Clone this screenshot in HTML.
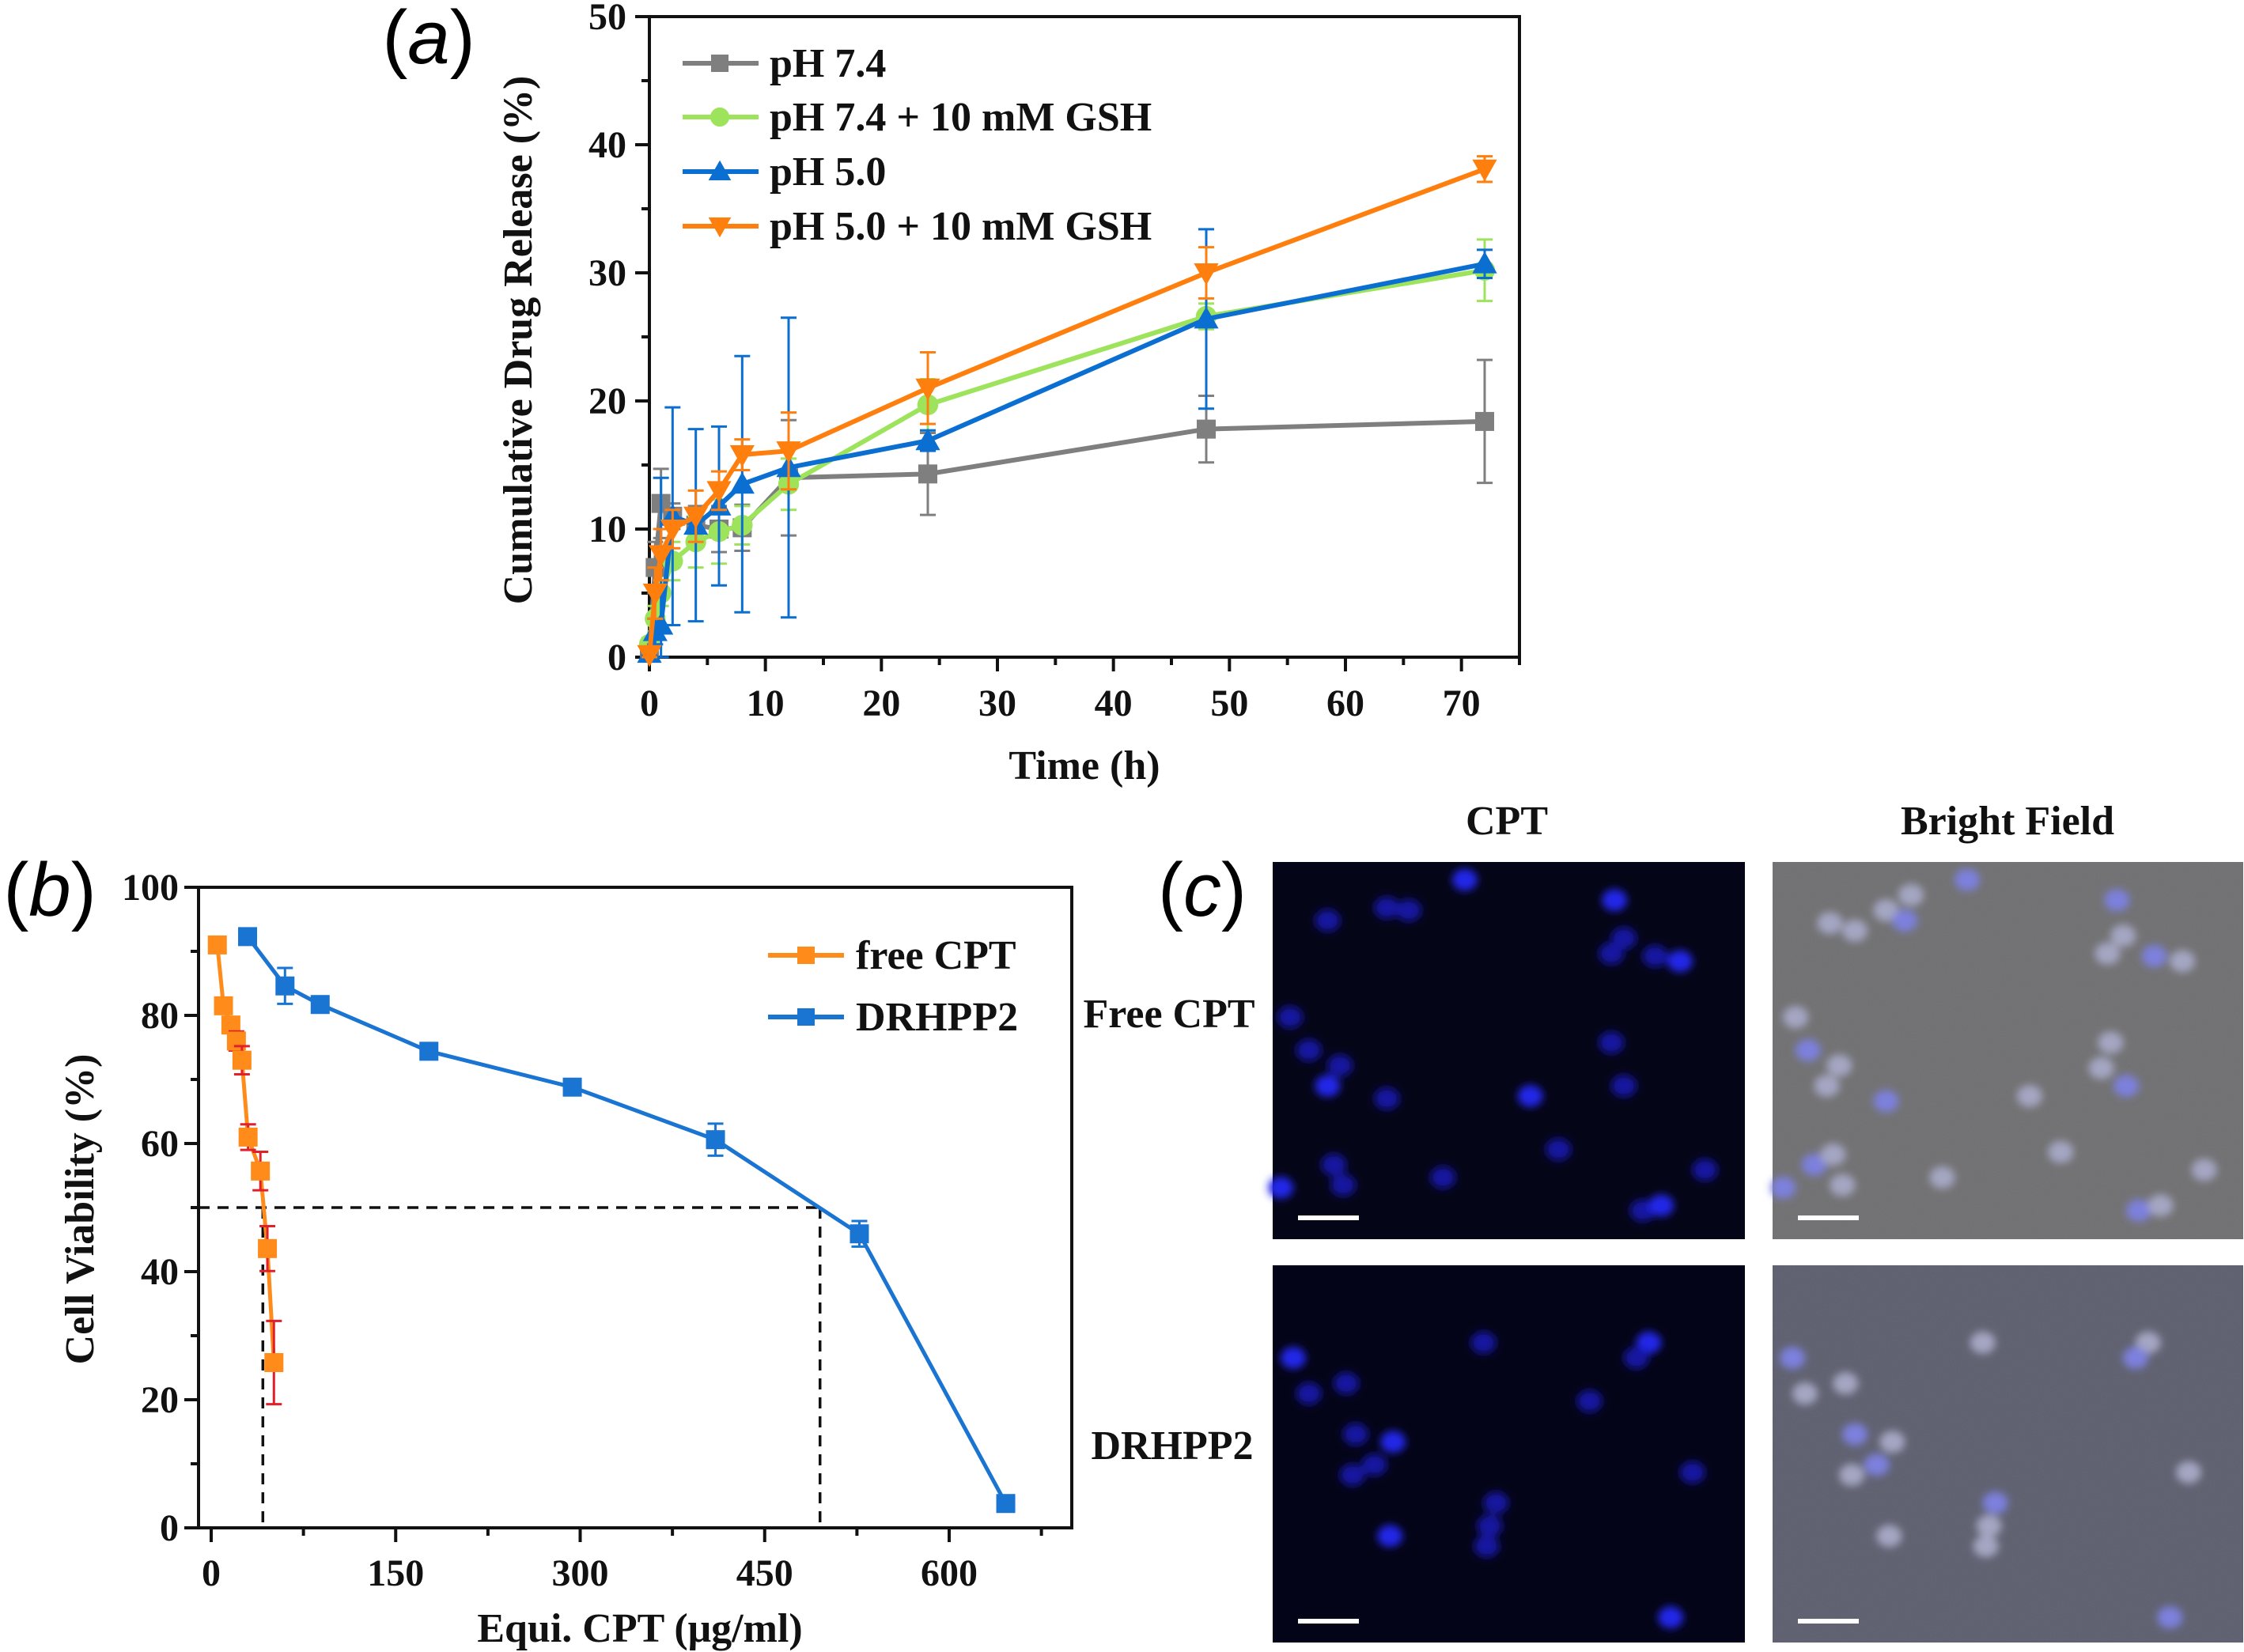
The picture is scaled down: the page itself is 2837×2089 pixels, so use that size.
<!DOCTYPE html>
<html><head><meta charset="utf-8"><style>
html,body{margin:0;padding:0;background:#fff;}
svg{display:block;font-family:"Liberation Serif",serif;}
.tk{font-weight:bold;font-size:48px;fill:#111;}
.tt{font-weight:bold;font-size:52px;fill:#111;}
</style></head><body>
<svg id="fig" width="2837" height="2089" viewBox="0 0 2837 2089" xmlns="http://www.w3.org/2000/svg">
<defs>
<filter id="blur" x="-50%" y="-50%" width="200%" height="200%"><feGaussianBlur stdDeviation="5"/></filter>
<filter id="noise" x="0" y="0" width="1" height="1"><feTurbulence type="fractalNoise" baseFrequency="0.9" numOctaves="2" result="n"/><feColorMatrix type="saturate" values="0"/><feComponentTransfer><feFuncA type="linear" slope="0.10"/></feComponentTransfer></filter>
</defs>
<g id="pa"></g>
<g id="pb"></g>
<g id="pc"></g>
</svg>
<script>
// ---------- Panel (a) data ----------
const timesA = [0, 0.5, 1, 2, 4, 6, 8, 12, 24, 48, 72];
const ph74 = [0.5, 7, 12, 11, 10.3, 10, 10.1, 14, 14.3, 17.8, 18.4];
const ph74Err = [0.5, 2, 2.7, 1, 1.5, 1.8, 1.8, 4.5, 3.2, 2.6, 4.8];
const ph74gsh = [1, 3, 5, 7.5, 9, 9.8, 10.3, 13.5, 19.7, 26.6, 30.2];
const ph74gshErr = [0.5, 1, 1, 1.5, 2, 2.5, 1.5, 2, 2, 1, 2.4];
const ph50 = [0.3, 2, 2.5, 11, 10.3, 11.8, 13.5, 14.8, 16.9, 26.4, 30.7];
const ph50Err = [0.5, 1, 11.5, 8.5, 7.5, 6.2, 10, 11.7, 0.8, 7, 1.1];
const ph50gsh = [0.2, 5, 8, 10, 11, 13, 15.8, 16.1, 21, 30, 38.1];
const ph50gshErr = [0.5, 2, 2, 1.5, 2, 1.5, 1.2, 3, 2.8, 2, 1];
const seriesANames = ["pH 7.4", "pH 7.4 + 10 mM GSH", "pH 5.0", "pH 5.0 + 10 mM GSH"];
const xTicksA = [0, 10, 20, 30, 40, 50, 60, 70];
const yTicksA = [0, 10, 20, 30, 40, 50];
// ---------- Panel (b) data ----------
const freeX = [5, 10, 16, 20.5, 25, 30, 40, 45.7, 51];
const freeY = [91, 81.5, 78.5, 76, 73, 61, 55.7, 43.6, 25.8];
const freeErr = [1.2, 1, 1, 1.5, 2.2, 2, 3, 3.5, 6.5];
const drX = [29.6, 60, 88.6, 177, 293.6, 410, 527, 646];
const drY = [92.3, 84.6, 81.7, 74.4, 68.8, 60.6, 45.9, 3.8];
const drErr = [1.2, 2.8, 1.2, 1, 1, 2.5, 2, 0.5];
const ic50Free = 42;
const ic50Dr = 495;
const xTicksB = [0, 150, 300, 450, 600];
const yTicksB = [0, 20, 40, 60, 80, 100];

const NS = "http://www.w3.org/2000/svg";
function mk(parent, tag, attrs, text) {
  const e = document.createElementNS(NS, tag);
  for (const k in attrs) e.setAttribute(k, attrs[k]);
  if (text !== undefined) e.textContent = text;
  parent.appendChild(e);
  return e;
}
function panelLabel(parent, x, y, letter, name) {
  const t = mk(parent, "text", { x: x, y: y, "font-family": "Liberation Sans, sans-serif", "font-size": "96", "text-anchor": "middle" });
  
  
  mk(t, "tspan", {}, "(");
  mk(t, "tspan", { "font-style": "italic" }, letter);
  mk(t, "tspan", {}, ")");
}

// ===== Panel A =====
(function () {
  const g = document.getElementById("pa");
  const L = 821, R = 1921, T = 21, B = 831;
  const xA = v => L + (v - 0) / 75 * (R - L);
  const yA = v => B - v / 50 * (B - T);
  let e = mk(g, "rect", { x: L, y: T, width: R - L, height: B - T, fill: "none", stroke: "#111", "stroke-width": 4 });
  
  
  for (let v = 0; v <= 75; v += 5) {
    const maj = v % 10 === 0;
    mk(g, "line", { x1: xA(v), x2: xA(v), y1: B, y2: B + (maj ? 18 : 10), stroke: "#111", "stroke-width": 4 });
  }
  xTicksA.forEach(v => {
    e = mk(g, "text", { x: xA(v), y: 905, class: "tk", "text-anchor": "middle" }, v);
    
    
  });
  for (let v = 0; v <= 50; v += 5) {
    const maj = v % 10 === 0;
    mk(g, "line", { x1: L, x2: L - (maj ? 18 : 10), y1: yA(v), y2: yA(v), stroke: "#111", "stroke-width": 4 });
  }
  yTicksA.forEach(v => {
    e = mk(g, "text", { x: 792, y: yA(v) + 16, class: "tk", "text-anchor": "end" }, v);
    
    
  });
  e = mk(g, "text", { x: 1371, y: 985, class: "tt", "text-anchor": "middle" }, "Time (h)");
  
  
  e = mk(g, "text", { x: 0, y: 0, class: "tt", "text-anchor": "middle", transform: "translate(672,430) rotate(-90)" }, "Cumulative Drug Release (%)");
  
  
  panelLabel(g, 542, 80, "a", "panel-a-label");

  const colors = ["#7f7f7f", "#9de35c", "#0b6fd1", "#ff7f0e"];
  const ys = [ph74, ph74gsh, ph50, ph50gsh];
  const errs = [ph74Err, ph74gshErr, ph50Err, ph50gshErr];
  const markers = ["sq", "ci", "tu", "td"];
  function marker(p, type, cx, cy, col, s) {
    if (type === "sq") return mk(p, "rect", { x: cx - s, y: cy - s, width: 2 * s, height: 2 * s, fill: col });
    if (type === "ci") return mk(p, "circle", { cx: cx, cy: cy, r: s * 1.1, fill: col });
    if (type === "tu") return mk(p, "polygon", { points: `${cx},${cy - s * 1.3} ${cx - s * 1.3},${cy + s} ${cx + s * 1.3},${cy + s}`, fill: col });
    return mk(p, "polygon", { points: `${cx},${cy + s * 1.3} ${cx - s * 1.3},${cy - s} ${cx + s * 1.3},${cy - s}`, fill: col });
  }
  ys.forEach((arr, si) => {
    const sg = mk(g, "g", {});
    
    
    arr.forEach((v, i) => {
      const x = xA(timesA[i]);
      const lo = Math.max(0, v - errs[si][i]), hi = v + errs[si][i];
      mk(sg, "line", { x1: x, x2: x, y1: yA(lo), y2: yA(hi), stroke: colors[si], "stroke-width": 3 });
      mk(sg, "line", { x1: x - 10, x2: x + 10, y1: yA(lo), y2: yA(lo), stroke: colors[si], "stroke-width": 3 });
      mk(sg, "line", { x1: x - 10, x2: x + 10, y1: yA(hi), y2: yA(hi), stroke: colors[si], "stroke-width": 3 });
    });
    mk(sg, "polyline", { points: arr.map((v, i) => xA(timesA[i]) + "," + yA(v)).join(" "), fill: "none", stroke: colors[si], "stroke-width": 6 });
    arr.forEach((v, i) => {
      const m = marker(sg, markers[si], xA(timesA[i]), yA(v), colors[si], 12);
      
      
    });
  });
  const legY = [80, 148, 217, 286];
  seriesANames.forEach((n, i) => {
    const lg = mk(g, "g", {});
    
    
    mk(lg, "line", { x1: 863, x2: 959, y1: legY[i], y2: legY[i], stroke: colors[i], "stroke-width": 6 });
    marker(lg, markers[i], 910, legY[i], colors[i], 11);
    mk(lg, "text", { x: 973, y: legY[i] + 17, class: "tt" }, n);
  });
})();

// ===== Panel B =====
(function () {
  const g = document.getElementById("pb");
  const L = 251, R = 1355, T = 1122, B = 1932;
  const xB = v => 267 + v * (1200 - 267) / 600;
  const yB = v => B - v / 100 * (B - T);
  let e = mk(g, "rect", { x: L, y: T, width: R - L, height: B - T, fill: "none", stroke: "#111", "stroke-width": 4 });
  
  
  for (let v = 0; v <= 675; v += 75) {
    const maj = v % 150 === 0;
    mk(g, "line", { x1: xB(v), x2: xB(v), y1: B, y2: B + (maj ? 18 : 10), stroke: "#111", "stroke-width": 4 });
  }
  xTicksB.forEach(v => {
    e = mk(g, "text", { x: xB(v), y: 2005, class: "tk", "text-anchor": "middle" }, v);
    
    
  });
  for (let v = 0; v <= 100; v += 10) {
    const maj = v % 20 === 0;
    mk(g, "line", { x1: L, x2: L - (maj ? 18 : 10), y1: yB(v), y2: yB(v), stroke: "#111", "stroke-width": 4 });
  }
  yTicksB.forEach(v => {
    e = mk(g, "text", { x: 226, y: yB(v) + 16, class: "tk", "text-anchor": "end" }, v);
    
    
  });
  e = mk(g, "text", { x: 809, y: 2076, class: "tt", "text-anchor": "middle" }, "Equi. CPT (μg/ml)");
  
  
  e = mk(g, "text", { x: 0, y: 0, class: "tt", "text-anchor": "middle", transform: "translate(118,1529) rotate(-90)" }, "Cell Viability (%)");
  
  
  panelLabel(g, 63, 1158, "b", "panel-b-label");
  const dg = mk(g, "g", { stroke: "#111", "stroke-width": 3.5, "stroke-dasharray": "14 10", fill: "none" });
  
  
  mk(dg, "line", { x1: L, x2: xB(ic50Dr), y1: yB(50), y2: yB(50) });
  mk(dg, "line", { x1: xB(ic50Free), x2: xB(ic50Free), y1: yB(50), y2: B });
  mk(dg, "line", { x1: xB(ic50Dr), x2: xB(ic50Dr), y1: yB(50), y2: B });

  function drawSeries(xs, ysv, errv, col, ecol, name) {
    const sg = mk(g, "g", {});
    
    
    mk(sg, "polyline", { points: xs.map((x, i) => xB(x) + "," + yB(ysv[i])).join(" "), fill: "none", stroke: col, "stroke-width": 5 });
    xs.forEach((x, i) => {
      const px = xB(x), lo = ysv[i] - errv[i], hi = ysv[i] + errv[i];
      mk(sg, "line", { x1: px, x2: px, y1: yB(lo), y2: yB(hi), stroke: ecol, "stroke-width": 3 });
      mk(sg, "line", { x1: px - 10, x2: px + 10, y1: yB(lo), y2: yB(lo), stroke: ecol, "stroke-width": 3 });
      mk(sg, "line", { x1: px - 10, x2: px + 10, y1: yB(hi), y2: yB(hi), stroke: ecol, "stroke-width": 3 });
      const m = mk(sg, "rect", { x: px - 12, y: yB(ysv[i]) - 12, width: 24, height: 24, fill: col });
      
      
    });
  }
  drawSeries(drX, drY, drErr, "#1a75d2", "#1a75d2", "series-drhpp2");
  drawSeries(freeX, freeY, freeErr, "#ff8c1a", "#e0202a", "series-free-cpt");
  const legs = [["free CPT", "#ff8c1a", 1208], ["DRHPP2", "#1a75d2", 1286]];
  legs.forEach(l => {
    const lg = mk(g, "g", {});
    
    
    mk(lg, "line", { x1: 971, x2: 1067, y1: l[2], y2: l[2], stroke: l[1], "stroke-width": 6 });
    mk(lg, "rect", { x: 1008, y: l[2] - 11, width: 22, height: 22, fill: l[1] });
    mk(lg, "text", { x: 1082, y: l[2] + 17, class: "tt" }, l[0]);
  });
})();

// ===== Panel C (micrographs) =====
(function () {
  const g = document.getElementById("pc");
  let e;
  const labels = [["CPT", 1905, 1055, "middle", "column-label-cpt"], ["Bright Field", 2538, 1055, "middle", "column-label-bright-field"],
                  ["Free CPT", 1478, 1299, "middle", "row-label-free-cpt"], ["DRHPP2", 1482, 1845, "middle", "row-label-drhpp2"]];
  labels.forEach(l => {
    e = mk(g, "text", { x: l[1], y: l[2], class: "tt", "text-anchor": l[3] }, l[0]);
    
    
  });
  panelLabel(g, 1520, 1158, "c", "panel-c-label");
  const imgs = [
    { x: 1609, y: 1090, w: 597, h: 477, bg: "#050518", bf: false, ox: 12, oy: 15, name: "free-cpt-fluorescence-image",
      cells: [[320,50],[195,105],[230,110],[100,130],[560,90],[575,165],[555,195],[625,200],[665,210],[40,320],[70,385],[120,415],[100,455],[555,370],[575,455],[195,480],[425,475],[470,580],[110,610],[125,650],[25,655],[285,635],[705,620],[605,700],[635,690]] },
    { x: 2241, y: 1090, w: 595, h: 477, bg: "#6f6f71", bf: true, ox: 813, oy: 15, name: "free-cpt-bright-field-image",
      cells: [[1125,50],[995,110],[1035,80],[1025,130],[905,135],[945,150],[1365,90],[1375,160],[1350,195],[1425,200],[1470,210],[850,320],[870,385],[920,415],[900,455],[995,485],[1355,370],[1340,420],[1380,455],[1225,475],[1275,585],[880,610],[910,590],[925,650],[830,655],[1085,635],[1505,620],[1400,700],[1435,690]] },
    { x: 1609, y: 1600, w: 597, h: 477, bg: "#040418", bf: false, ox: 12, oy: 808, name: "drhpp2-fluorescence-image",
      cells: [[45,990],[70,1060],[130,1040],[145,1140],[205,1155],[140,1220],[175,1200],[350,960],[615,960],[595,990],[520,1075],[685,1215],[200,1340],[370,1275],[360,1320],[355,1360],[650,1500]] },
    { x: 2241, y: 1600, w: 595, h: 477, bg: "#5c5e6e", bf: true, ox: 813, oy: 808, name: "drhpp2-bright-field-image",
      cells: [[845,990],[865,1060],[930,1040],[945,1140],[1005,1155],[940,1220],[980,1200],[1150,960],[1415,960],[1395,990],[1480,1215],[1000,1340],[1170,1275],[1160,1320],[1155,1360],[1450,1500]] }
  ];
  imgs.forEach(im => {
    const ig = mk(g, "g", {});
    
    
    mk(ig, "rect", { x: im.x, y: im.y, width: im.w, height: im.h, fill: im.bg });
    if (im.bf) mk(ig, "rect", { x: im.x, y: im.y, width: im.w, height: im.h, fill: "#fff", filter: "url(#noise)" });
    const cg = mk(ig, "g", { filter: "url(#blur)" });
    im.cells.forEach((c, i) => {
      const cx = im.x + (c[0] - im.ox) / 1.268;
      const cy = im.y + (c[1] - im.oy) / 1.554;
      const col = im.bf ? (i % 3 === 0 ? "#7d80dd" : "#a4a6c2") : (i % 4 === 0 ? "#2326e8" : "#1517a0");
      mk(cg, "ellipse", { cx: cx, cy: cy, rx: 16, ry: 14, fill: col });
    });
    mk(ig, "rect", { x: im.x + 32, y: im.y + 447, width: 77, height: 6, fill: "#fff" });
  });
})();
</script>
</body></html>
